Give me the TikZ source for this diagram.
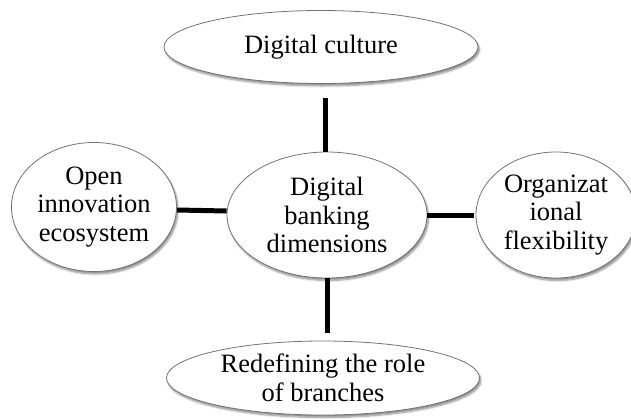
\documentclass[tikz,border=0pt]{standalone}
\usepackage{fontspec}
\setmainfont{Liberation Serif}
\usetikzlibrary{shapes.geometric,shadows.blur}
\begin{document}
\begin{tikzpicture}[x=1pt,y=-1pt,
  bub/.style={ellipse,draw=black!55,line width=0.8pt,fill=white,inner sep=0pt,
    blur shadow={shadow xshift=1.5pt,shadow yshift=-2.5pt,shadow blur steps=6,shadow opacity=45},
    align=center,font=\fontsize{26.5}{28.5}\selectfont},
  link/.style={line width=5pt,black}]
\useasboundingbox (0,0) rectangle (631,418);
\node[bub,minimum width=314,minimum height=73] (top) at (321,47) {Digital culture};
\node[bub,minimum width=200,minimum height=126] (mid) at (327,215) {Digital\\banking\\dimensions};
\node[bub,minimum width=165,minimum height=129] (left) at (94,207) {Open\\innovation\\ecosystem};
\node[bub,minimum width=160,minimum height=126] (right) at (556,215) {Organizat\\ional\\flexibility};
\node[bub,minimum width=313,minimum height=74] (bot) at (323,378) {Redefining the role\\of branches};
\coordinate (t1) at (325,98);
\draw[link] (t1) -- (t1 |- mid.north);
\coordinate (l1) at (177,210);
\draw[link] (l1) -- (mid.west |- 0,211);
\coordinate (r2) at (474,215);
\draw[link] (mid.east) -- (r2);
\coordinate (b2) at (327,333);
\draw[link] (b2 |- mid.south) -- (b2);
\end{tikzpicture}
\end{document}
